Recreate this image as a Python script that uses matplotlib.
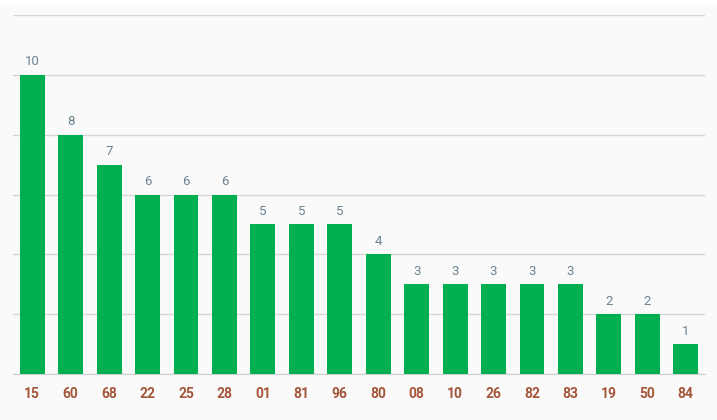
import numpy as np
import matplotlib
matplotlib.use("Agg")
import matplotlib.pyplot as plt
from matplotlib.patches import Rectangle

categories = ['15', '60', '68', '22', '25', '28', '01', '81', '96', '80',
              '08', '10', '26', '82', '83', '19', '50', '84']
values = [10, 8, 7, 6, 6, 6, 5, 5, 5, 4, 3, 3, 3, 3, 3, 2, 2, 1]

W, H = 717, 420
fig = plt.figure(figsize=(W / 100, H / 100), dpi=100, facecolor='#fafafa')
# white strip at the very top
fig.patches.append(Rectangle((0, 1 - 7 / H), 1, 7 / H, transform=fig.transFigure,
                             facecolor='white', edgecolor='none', zorder=0))

left, right, top, bottom = 13, 705, 15, 374
ax = fig.add_axes([left / W, 1 - bottom / H, (right - left) / W, (bottom - top) / H])
ax.set_facecolor('#fafafa')

x = np.arange(len(categories))
ax.bar(x, values, width=0.65, color='#00b050', zorder=3)
for xi, v in zip(x, values):
    ax.text(xi, v + 0.22, str(v), ha='center', va='bottom', fontsize=9.5,
            color='#6b8290', family='Roboto')

ax.set_xlim(-0.5, len(categories) - 0.5)
ax.set_ylim(0, 12)
ax.set_yticks(np.arange(0, 13, 2))
ax.yaxis.grid(True, color='#d6d6d6', linewidth=1)
ax.set_axisbelow(True)
ax.tick_params(axis='y', length=0, labelleft=False)
ax.tick_params(axis='x', length=0, pad=9)
ax.set_xticks(x)
ax.set_xticklabels(categories, fontsize=10, fontweight='bold', color='#a5563a',
                   family='Roboto')
for s in ['top', 'right', 'left']:
    ax.spines[s].set_visible(False)
ax.spines['bottom'].set_color('#cfcfcf')

plt.savefig('out.png', dpi=100, facecolor=fig.get_facecolor())
